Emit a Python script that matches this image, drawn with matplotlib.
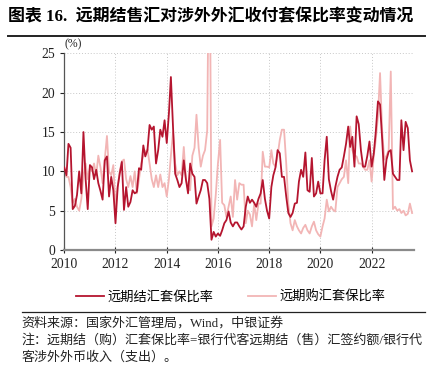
import matplotlib
matplotlib.use("Agg")
import matplotlib.pyplot as plt
import matplotlib.dates as mdates
import pandas as pd

FONT = ["Liberation Serif", "Noto Sans CJK SC"]
plt.rcParams["font.family"] = FONT

MONTHS = pd.date_range("2010-01-01", "2023-08-01", freq="MS")

# 远期结汇套保比率 (%)
SETTLE = [
    10.5, 9.5, 13.5, 13.0, 5.2, 5.6, 7.0, 10.0, 7.2, 15.0, 9.0, 5.2,      # 2010
    10.8, 10.5, 9.0, 10.2, 8.5, 7.5, 6.4, 11.4, 11.9, 6.8, 9.3, 7.6,      # 2011
    3.4, 8.0, 9.7, 11.2, 5.1, 8.0, 5.5, 6.1, 7.6, 7.2, 7.4, 10.4,         # 2012
    10.2, 13.3, 11.9, 12.7, 15.9, 15.3, 15.7, 11.0, 12.7, 15.3, 14.4, 16.5,  # 2013
    13.6, 17.4, 22.0, 15.5, 9.7, 8.9, 8.0, 8.5, 11.4, 9.0, 7.2, 11.0,     # 2014
    9.7, 9.3, 5.9, 6.8, 7.6, 8.9, 8.9, 8.5, 6.5, 1.3, 2.3, 1.7,           # 2015
    2.1, 1.8, 2.5, 3.4, 3.8, 4.9, 3.5, 3.0, 3.5, 3.5, 3.0, 2.6,           # 2016
    3.0, 5.5, 6.8, 6.0, 6.4, 6.0, 5.5, 6.5, 7.2, 8.9, 6.5, 5.0,           # 2017
    4.0, 8.0, 9.5, 10.5, 12.7, 12.3, 9.3, 9.3, 6.8, 4.7, 4.2, 4.7,        # 2018
    5.9, 6.0, 8.7, 10.2, 9.3, 12.4, 7.6, 7.4, 11.7, 6.8, 7.2, 8.7,        # 2019
    7.2, 7.2, 11.4, 14.4, 9.0, 7.5, 6.4, 8.0, 9.3, 10.2, 10.5, 11.9,      # 2020
    13.5, 15.7, 13.1, 14.4, 10.6, 17.0, 16.0, 12.7, 10.6, 10.6, 12.0, 13.8,  # 2021
    10.6, 12.3, 15.0, 18.9, 18.5, 14.0, 8.9, 11.5, 12.5, 12.7, 9.7, 9.3,  # 2022
    8.9, 8.9, 16.5, 12.7, 16.3, 15.5, 11.4, 10.0,                         # 2023
]

# 远期购汇套保比率 (%)
PURCHASE = [
    9.7, 9.3, 9.3, 8.0, 6.0, 6.5, 5.5, 5.0, 6.5, 9.5, 11.0, 9.0,          # 2010
    10.5, 10.0, 11.0, 9.5, 12.0, 10.5, 8.5, 11.5, 14.5, 10.0, 9.5, 10.8,  # 2011
    5.5, 8.0, 10.0, 11.3, 11.5, 9.0, 8.0, 9.4, 8.0, 10.0, 7.2, 9.0,       # 2012
    11.0, 12.0, 12.5, 12.8, 11.0, 9.0, 8.0, 9.5, 8.0, 9.6, 8.0, 8.5,      # 2013
    6.8, 9.0, 12.0, 15.0, 11.0, 9.5, 10.0, 9.5, 13.1, 9.0, 7.8, 7.6,      # 2014
    12.0, 13.0, 17.2, 13.0, 10.6, 12.0, 12.7, 15.2, 45.0, 3.0, 4.0, 7.0,  # 2015
    11.0, 14.0, 6.0, 5.7, 4.2, 5.5, 6.8, 4.2, 8.9, 6.4, 8.5, 8.3,         # 2016
    8.3, 3.4, 5.0, 4.5, 3.0, 5.9, 3.8, 5.9, 5.9, 12.5, 10.6, 10.6,        # 2017
    10.5, 12.7, 11.0, 10.6, 12.0, 14.0, 15.3, 15.3, 11.0, 5.9, 3.4, 2.5,  # 2018
    3.8, 3.0, 2.5, 2.1, 2.8, 3.2, 2.5, 2.1, 3.0, 3.6, 2.5, 2.0,           # 2019
    1.7, 3.0, 4.0, 6.4, 4.9, 5.5, 5.1, 4.9, 8.0, 8.5, 9.0, 9.3,           # 2020
    11.4, 8.5, 15.7, 12.7, 12.0, 11.9, 11.0, 11.0, 10.6, 10.2, 10.2, 11.4,  # 2021
    8.7, 12.0, 14.0, 17.0, 22.5, 15.0, 11.5, 12.0, 12.7, 22.7, 5.2, 5.5,  # 2022
    5.0, 5.2, 4.7, 5.0, 4.4, 4.6, 5.9, 4.7,                               # 2023
]

YEAR_TICKS = ["2010", "2012", "2014", "2016", "2018", "2020", "2022"]
Y_TICKS = [0, 5, 10, 15, 20, 25]

DARK = "#b5152f"
PINK = "#f2b5b5"

fig = plt.figure(figsize=(4.36, 3.66), dpi=100)
ax = fig.add_axes([0.1475, 0.317, 0.802, 0.537])

ax.plot(MONTHS, PURCHASE, color=PINK, lw=1.3, label="远期购汇套保比率", zorder=2)
ax.plot(MONTHS, SETTLE, color=DARK, lw=1.3, label="远期结汇套保比率", zorder=3)

ax.set_ylim(0, 25)
ax.set_xlim(pd.Timestamp("2010-01-01"), pd.Timestamp("2023-08-28"))
ax.set_yticks(Y_TICKS)
ax.set_xticks([pd.Timestamp(y + "-01-01") for y in YEAR_TICKS])
ax.xaxis.set_major_formatter(mdates.DateFormatter("%Y"))
ax.tick_params(labelsize=9.8, colors="#222222", length=3, width=0.8)
ax.tick_params(axis="x", direction="inout", length=5)
ax.grid(True, ls=(0, (1, 2)), color="#c8c8c8", lw=0.7)
for s in ["top", "right"]:
    ax.spines[s].set_visible(False)
ax.spines["left"].set_color("#555555")
ax.spines["left"].set_linewidth(0.9)
ax.spines["bottom"].set_color("#8a8a8a")
ax.spines["bottom"].set_linewidth(1.6)
ax.text(0.0, 1.015, "(%)", transform=ax.transAxes, fontsize=8.5,
        ha="left", va="bottom", color="#222222")

# title and rules
fig.text(0.018, 0.952, "图表 16.  远期结售汇对涉外外汇收付套保比率变动情况",
         fontsize=12.2, fontweight="bold", ha="left", va="center")
fig.add_artist(plt.Line2D([0.018, 0.975], [0.902, 0.902], color="#222222", lw=1.4))
fig.add_artist(plt.Line2D([0.05, 0.975], [0.148, 0.148], color="#222222", lw=0.9))

h, l = ax.get_legend_handles_labels()
fig.legend([h[1], h[0]], [l[1], l[0]], loc="center", bbox_to_anchor=(0.53, 0.188),
           ncol=2, frameon=False, handlelength=2.1, columnspacing=2.6,
           handletextpad=0.3, prop={"family": ["Noto Sans CJK SC"], "size": 9.5})

note_kw = dict(fontsize=9.4, ha="left", va="center", color="#222222",
               family=["Liberation Serif", "Noto Sans CJK SC"])
fig.text(0.05, 0.118, "资料来源：国家外汇管理局，Wind，中银证券", **note_kw)
fig.text(0.05, 0.070, "注：远期结（购）汇套保比率=银行代客远期结（售）汇签约额/银行代", **note_kw)
fig.text(0.05, 0.024, "客涉外外币收入（支出）。", **note_kw)

fig.savefig("out.png", dpi=100, facecolor="white")
